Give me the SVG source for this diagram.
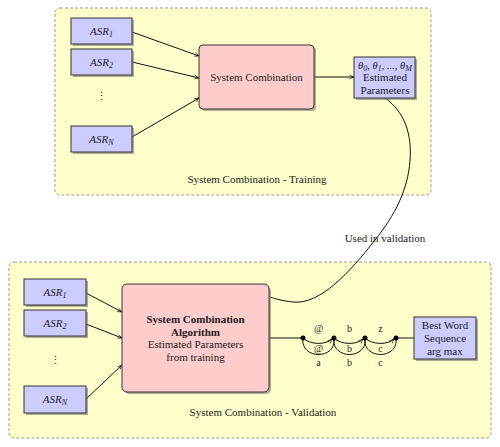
<svg xmlns="http://www.w3.org/2000/svg" width="500" height="447" viewBox="0 0 500 447" font-family="'Liberation Serif', 'DejaVu Serif', 'Times New Roman', serif">
<defs>
<style>
text{font-family:'Liberation Serif','DejaVu Serif','Times New Roman',serif;font-size:11px;fill:#222;text-anchor:middle}
.it{font-style:italic}
.sub{font-size:8px}
.panel{fill:#ffffcc;stroke:#999;stroke-width:1;stroke-dasharray:3,2}
.blue{fill:#ccccff;stroke:#333;stroke-width:1}
.pink{fill:#ffcccc;stroke:#333;stroke-width:1}
.shadow{fill:#777;opacity:0.6}
.line{fill:none;stroke:#111;stroke-width:1}
.lab{font-size:10px}
.b{font-weight:bold}
</style>
<marker id="ah" markerWidth="6" markerHeight="6" refX="5" refY="3" orient="auto" markerUnits="userSpaceOnUse">
<path d="M0.5,1.2 L5,3 L0.5,4.8" fill="none" stroke="#111" stroke-width="0.7"/>
</marker>
</defs>

<g id="panel-training">
<rect class="panel" x="55" y="8" width="376" height="187" rx="5"/>
<text x="257" y="183">System Combination - Training</text>
</g>
<g id="panel-validation">
<rect class="panel" x="9" y="262" width="482" height="176" rx="5"/>
<text x="263" y="416">System Combination - Validation</text>
</g>

<g id="connectors">
<line class="line" x1="132" y1="32" x2="199" y2="56" marker-end="url(#ah)"/>
<line class="line" x1="132" y1="62" x2="199" y2="78" marker-end="url(#ah)"/>
<line class="line" x1="132" y1="137" x2="199" y2="98" marker-end="url(#ah)"/>
<line class="line" x1="314" y1="77" x2="354" y2="77" marker-end="url(#ah)"/>
<path class="line" d="M385,98 C405,112 412,135 410,160 C408,190 395,215 375,240 C350,272 320,305 293,302 C283,301 276,299 270,297"/>
<line class="line" x1="86" y1="293" x2="122" y2="312" marker-end="url(#ah)"/>
<line class="line" x1="86" y1="324" x2="122" y2="338" marker-end="url(#ah)"/>
<line class="line" x1="86" y1="399" x2="122" y2="365" marker-end="url(#ah)"/>
<line class="line" x1="269" y1="338" x2="303" y2="338"/>
<line class="line" x1="396" y1="338" x2="414" y2="338"/>
<path class="line" d="M303,338 C310,345 326,345 332,339" marker-end="url(#ah)"/>
<path class="line" d="M303,338 C300,360 337,360 334,338"/>
<path class="line" d="M334,338 C341,345 357,345 363,339" marker-end="url(#ah)"/>
<path class="line" d="M334,338 C331,360 368,360 365,338"/>
<path class="line" d="M365,338 C372,345 388,345 394,339" marker-end="url(#ah)"/>
<path class="line" d="M365,338 C362,360 399,360 396,338"/>
<text x="385" y="242">Used in validation</text>
<text class="lab" x="318.5" y="332">@</text>
<text class="lab" x="318.5" y="352">@</text>
<text class="lab" x="318.5" y="366">a</text>
<text class="lab" x="349.5" y="332">b</text>
<text class="lab" x="349.5" y="352">b</text>
<text class="lab" x="349.5" y="366">b</text>
<text class="lab" x="380.5" y="332">z</text>
<text class="lab" x="380.5" y="352">c</text>
<text class="lab" x="380.5" y="366">c</text>
</g>

<g id="lattice-nodes">
<circle cx="303" cy="338" r="2.5" fill="#000"/>
<circle cx="334" cy="338" r="2.5" fill="#000"/>
<circle cx="365" cy="338" r="2.5" fill="#000"/>
<circle cx="396" cy="338" r="2.5" fill="#000"/>
</g>

<g id="t-asr1">
<rect class="shadow" x="73" y="20" width="61" height="26"/>
<rect class="blue" x="71" y="18" width="61" height="26"/>
<text class="it" x="101.5" y="35">ASR<tspan class="sub" dy="2">1</tspan></text>
</g>
<g id="t-asr2">
<rect class="shadow" x="73" y="51" width="61" height="26"/>
<rect class="blue" x="71" y="49" width="61" height="26"/>
<text class="it" x="101.5" y="66">ASR<tspan class="sub" dy="2">2</tspan></text>
</g>
<g id="t-dots">
<text x="101" y="100">⋮</text>
</g>
<g id="t-asrn">
<rect class="shadow" x="73" y="128" width="61" height="26"/>
<rect class="blue" x="71" y="126" width="61" height="26"/>
<text class="it" x="101.5" y="143">ASR<tspan class="sub" dy="2">N</tspan></text>
</g>
<g id="t-syscomb">
<rect class="shadow" x="201" y="47" width="115" height="64" rx="4"/>
<rect class="pink" x="199" y="45" width="115" height="64" rx="4"/>
<text x="256.5" y="81">System Combination</text>
</g>
<g id="t-params">
<rect class="shadow" x="356" y="59" width="61" height="41"/>
<rect class="blue" x="354" y="57" width="61" height="41"/>
<text class="it" x="385" y="68.5" style="font-size:10.5px">θ<tspan class="sub" dy="2">0</tspan><tspan dy="-2">, θ</tspan><tspan class="sub" dy="2">1</tspan><tspan dy="-2">, ..., θ</tspan><tspan class="sub" dy="2">M</tspan></text>
<text x="385" y="81">Estimated</text>
<text x="385" y="94">Parameters</text>
</g>

<g id="v-asr1">
<rect class="shadow" x="26" y="281" width="62" height="26"/>
<rect class="blue" x="24" y="279" width="62" height="26"/>
<text class="it" x="55" y="296">ASR<tspan class="sub" dy="2">1</tspan></text>
</g>
<g id="v-asr2">
<rect class="shadow" x="26" y="312" width="62" height="26"/>
<rect class="blue" x="24" y="310" width="62" height="26"/>
<text class="it" x="55" y="327">ASR<tspan class="sub" dy="2">2</tspan></text>
</g>
<g id="v-dots">
<text x="55" y="364">⋮</text>
</g>
<g id="v-asrn">
<rect class="shadow" x="26" y="388" width="62" height="27"/>
<rect class="blue" x="24" y="386" width="62" height="27"/>
<text class="it" x="55" y="403">ASR<tspan class="sub" dy="2">N</tspan></text>
</g>
<g id="v-algorithm">
<rect class="shadow" x="124" y="286" width="147" height="108" rx="5"/>
<rect class="pink" x="122" y="284" width="147" height="108" rx="5"/>
<text class="b" x="195.5" y="323">System Combination</text>
<text class="b" x="195.5" y="336">Algorithm</text>
<text x="195.5" y="348">Estimated Parameters</text>
<text x="195.5" y="361">from training</text>
</g>
<g id="v-bestword">
<rect class="shadow" x="416" y="319" width="62" height="42"/>
<rect class="blue" x="414" y="317" width="62" height="42"/>
<text x="445" y="329">Best Word</text>
<text x="445" y="342">Sequence</text>
<text x="445" y="355">arg max</text>
</g>
</svg>
